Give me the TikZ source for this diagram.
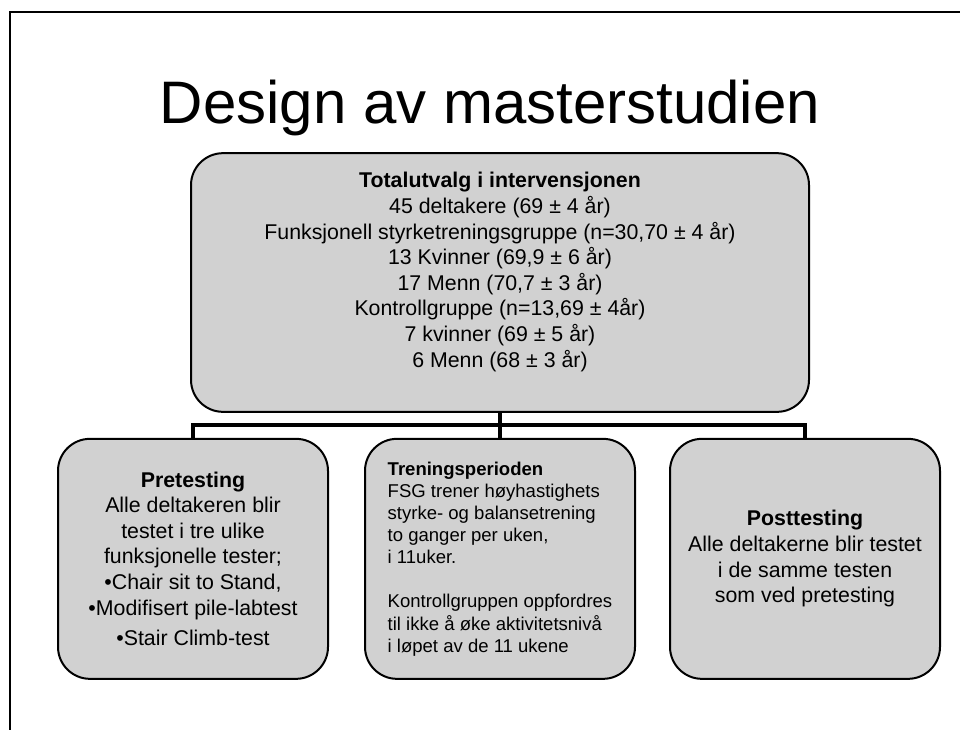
\documentclass[tikz,border=0pt]{standalone}
\usepackage{fontspec}
\setmainfont{Liberation Sans}
\usepackage{xcolor}
\usetikzlibrary{positioning}

\begin{document}
\begin{tikzpicture}[x=0.75pt, y=-0.75pt,
    title/.style={font=\fontsize{45}{50}\selectfont, inner sep=0pt},
    box/.style={rectangle, draw=black, fill=black!18, line width=1.5pt, rounded corners=24pt, align=center, font=\fontsize{16}{19.2}\selectfont},
    topbox/.style={box, minimum width=463.5pt, minimum height=194pt},
    stage/.style={box, minimum width=202.5pt, minimum height=180pt},
    line/.style={draw, line width=3pt}]

    \useasboundingbox (0,0) rectangle (960,729);
    % frame of the slide
    \draw[line width=1.5pt] (980,12) -- (10,12) -- (10,750);

    \node[title, anchor=base] (head) at (490,123) {Design av masterstudien};

    \node [topbox] (total) at (500,282.5) {\textbf{Totalutvalg i intervensjonen}\\
        45 deltakere (69 ± 4 år)\\
        Funksjonell styrketreningsgruppe (n=30,70 ± 4 år)\\
        13 Kvinner (69,9 ± 6 år)\\
        17 Menn (70,7 ± 3 år)\\
        Kontrollgruppe (n=13,69 ± 4år)\\
        7 kvinner (69 ± 5 år)\\
        6 Menn (68 ± 3 år)\\ \mbox{}};

    \node [stage, align=left, font=\fontsize{13.9}{16.6}\selectfont, below=18.75pt of total] (train) {\textbf{Treningsperioden}\\
        FSG trener høyhastighets\\
        styrke- og balansetrening\\
        to ganger per uken,\\
        i 11uker.\\[16.6pt]
        Kontrollgruppen oppfordres\\
        til ikke å øke aktivitetsnivå\\
        i løpet av de 11 ukene};
    \node [stage, left=26.25pt of train] (pre) {\textbf{Pretesting}\\
        Alle deltakeren blir\\
        testet i tre ulike\\
        funksjonelle tester;\\
        •Chair sit to Stand,\\
        •Modifisert pile-labtest\\[4pt]
        •Stair Climb-test};
    \node [stage, right=24.75pt of train] (post) {\textbf{Posttesting}\\
        Alle deltakerne blir testet\\
        i de samme testen\\
        som ved pretesting};

    \coordinate (bus) at (500,425);
    \path [line] (total.south) -- (train.north);
    \path [line] (pre.north) |- (bus) -| (post.north);
\end{tikzpicture}
\end{document}
